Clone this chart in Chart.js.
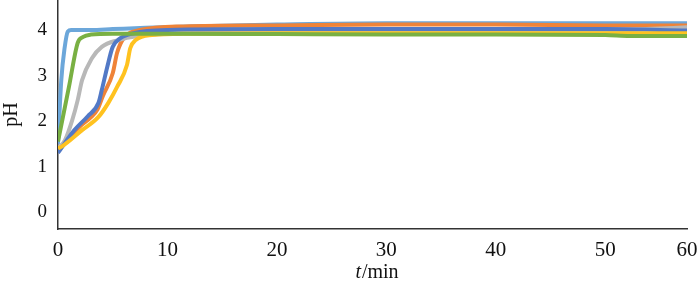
<!DOCTYPE html>
<html>
<head>
<meta charset="utf-8">
<script src="https://cdn.jsdelivr.net/npm/chart.js@4"></script>
<style>
  html, body { margin: 0; padding: 0; background: #fff; }
  #wrap { width: 700px; height: 288px; position: relative; }
</style>
</head>
<body>
<div id="wrap"><canvas id="ph-chart"></canvas></div>
<script>
// time (min) and pH readings per curve
const tBlue  = [0, 1.5, 2.7, 3.7, 4.0, 4.5, 5.0, 5.7, 6.9, 10, 20, 30, 40, 50, 60];
const phBlue = [1.3, 1.8, 2.1, 2.4, 2.68, 3.19, 3.63, 3.82, 3.93, 4.0, 4.02, 4.02, 4.02, 4.02, 3.99];

const tOrange  = [0, 1, 2, 3, 3.6, 4.1, 5.0, 5.4, 6.0, 7.5, 11.5, 20, 30, 40, 50, 60];
const phOrange = [1.35, 1.62, 1.88, 2.08, 2.25, 2.55, 3.05, 3.5, 3.82, 4.0, 4.08, 4.1, 4.12, 4.12, 4.1, 4.1];

const tGray  = [0, 0.64, 1.3, 1.8, 2.2, 3.1, 4.0, 5.5, 7.3, 10, 20, 30, 40, 50, 55, 60];
const phGray = [1.4, 1.58, 2.02, 2.46, 2.9, 3.38, 3.63, 3.78, 3.87, 3.92, 3.95, 3.96, 3.96, 3.97, 4.02, 4.06];

const tYellow  = [0, 0.4, 2.2, 3.7, 4.6, 5.4, 6.3, 6.6, 7.1, 8.6, 12, 20, 30, 40, 48, 56, 60];
const phYellow = [1.4, 1.45, 1.8, 2.09, 2.4, 2.75, 3.23, 3.6, 3.78, 3.89, 3.92, 3.93, 3.93, 3.93, 3.93, 3.93, 3.93];

const tLight  = [0, 0.3, 0.6, 0.9, 1.2, 3, 5, 8, 12, 20, 30, 40, 50, 60];
const phLight = [1.5, 2.9, 3.6, 3.97, 4.0, 4.0, 4.02, 4.05, 4.08, 4.12, 4.15, 4.15, 4.15, 4.15];

const tGreen  = [0, 1, 1.8, 2.3, 3, 5, 10, 20, 30, 40, 50, 53, 60];
const phGreen = [1.55, 2.75, 3.72, 3.85, 3.9, 3.92, 3.92, 3.91, 3.9, 3.9, 3.89, 3.87, 3.87];

const xTicks = [0, 10, 20, 30, 40, 50, 60];
const yTicks = [0, 1, 2, 3, 4];

function pts(ts, vals) {
	return ts.map((t, i) => ({x: t, y: vals[i]}));
}

// the original time axis is squeezed after 50 min (60 sits right at the end)
const SPLIT = 50, SPLIT_FRAC = 0.87;
class SqueezedScale extends Chart.LinearScale {
	getPixelForValue(v) {
		if (v === null || v === undefined) return NaN;
		let d;
		if (v <= SPLIT) d = (v - this.min) / (SPLIT - this.min) * SPLIT_FRAC;
		else d = SPLIT_FRAC + (v - SPLIT) / (this.max - SPLIT) * (1 - SPLIT_FRAC);
		return this.getPixelForDecimal(d);
	}
	getValueForPixel(p) {
		let d = this.getDecimalForPixel(p);
		if (d <= SPLIT_FRAC) return this.min + d / SPLIT_FRAC * (SPLIT - this.min);
		return SPLIT + (d - SPLIT_FRAC) / (1 - SPLIT_FRAC) * (this.max - SPLIT);
	}
}
SqueezedScale.id = 'squeezed';
SqueezedScale.defaults = Chart.LinearScale.defaults;
Chart.register(SqueezedScale);

const serif = '"Liberation Serif", "DejaVu Serif", serif';

// axis title "t/min" with an italic t
const xTitle = {
	id: 'xTitle',
	afterDraw(chart) {
		let c = chart.ctx, area = chart.chartArea;
		let cx = (area.left + area.right) / 2 + 4, y = 273;
		c.save();
		c.fillStyle = '#111';
		c.textBaseline = 'middle';
		c.font = 'italic 20px ' + serif;
		let wT = c.measureText('t').width;
		c.font = '20px ' + serif;
		let wRest = c.measureText('/min').width;
		let x0 = cx - (wT + wRest) / 2;
		c.textAlign = 'left';
		c.font = 'italic 20px ' + serif;
		c.fillText('t', x0, y);
		c.font = '20px ' + serif;
		c.fillText('/min', x0 + wT + 1, y);
		c.restore();
	}
};

function line(label, data, color) {
	return {
		label: label,
		data: data,
		borderColor: color,
		borderWidth: 4,
		pointRadius: 0,
		fill: false,
		cubicInterpolationMode: 'monotone'
	};
}

try {
	let ctx = document.getElementById('ph-chart');
	let phChart = new Chart(ctx, {
		type: 'line',
		data: {
			datasets: [
				line('s6', pts(tGreen, phGreen), '#79B043'),
				line('s4', pts(tYellow, phYellow), '#FFC21F'),
				line('s1', pts(tBlue, phBlue), '#5279C6'),
				line('s3', pts(tGray, phGray), '#B8B8B8'),
				line('s2', pts(tOrange, phOrange), '#EF8338'),
				line('s5', pts(tLight, phLight), '#6CA7DA')
			]
		},
		plugins: [xTitle],
		options: {
			responsive: true,
			maintainAspectRatio: false,
			animation: false,
			layout: { autoPadding: false, padding: { left: 0, right: 13, top: 0, bottom: 0 } },
			plugins: {
				legend: { display: false },
				tooltip: { enabled: false }
			},
			scales: {
				x: {
					type: 'squeezed',
					min: 0,
					max: 60,
					afterBuildTicks: function(scale) {
						scale.ticks = xTicks.map(v => ({value: v}));
					},
					afterFit: function(scale) {
						scale.height = 59;
						scale.paddingLeft = 0;
						scale.paddingRight = 0;
					},
					grid: { display: false, drawTicks: false },
					border: { display: true, color: '#333', width: 1.5 },
					ticks: {
						color: '#111',
						padding: 9,
						maxRotation: 0,
						autoSkip: false,
						font: { family: serif, size: 21 }
					},
					title: { display: false }
				},
				y: {
					min: -0.373,
					max: 4.66,
					afterBuildTicks: function(scale) {
						scale.ticks = yTicks.map(v => ({value: v}));
					},
					afterFit: function(scale) {
						scale.width = 58;
						scale.paddingTop = 0;
						scale.paddingBottom = 0;
					},
					grid: { display: false, drawTicks: false },
					border: { display: true, color: '#333', width: 1.5 },
					ticks: {
						color: '#111',
						padding: 11,
						font: { family: serif, size: 19 }
					},
					title: {
						display: true,
						text: 'pH',
						color: '#111',
						padding: { top: 0, bottom: 0 },
						font: { family: serif, size: 20 }
					}
				}
			}
		}
	});
}
catch (error) {
	console.log(error);
}
</script>
</body>
</html>
